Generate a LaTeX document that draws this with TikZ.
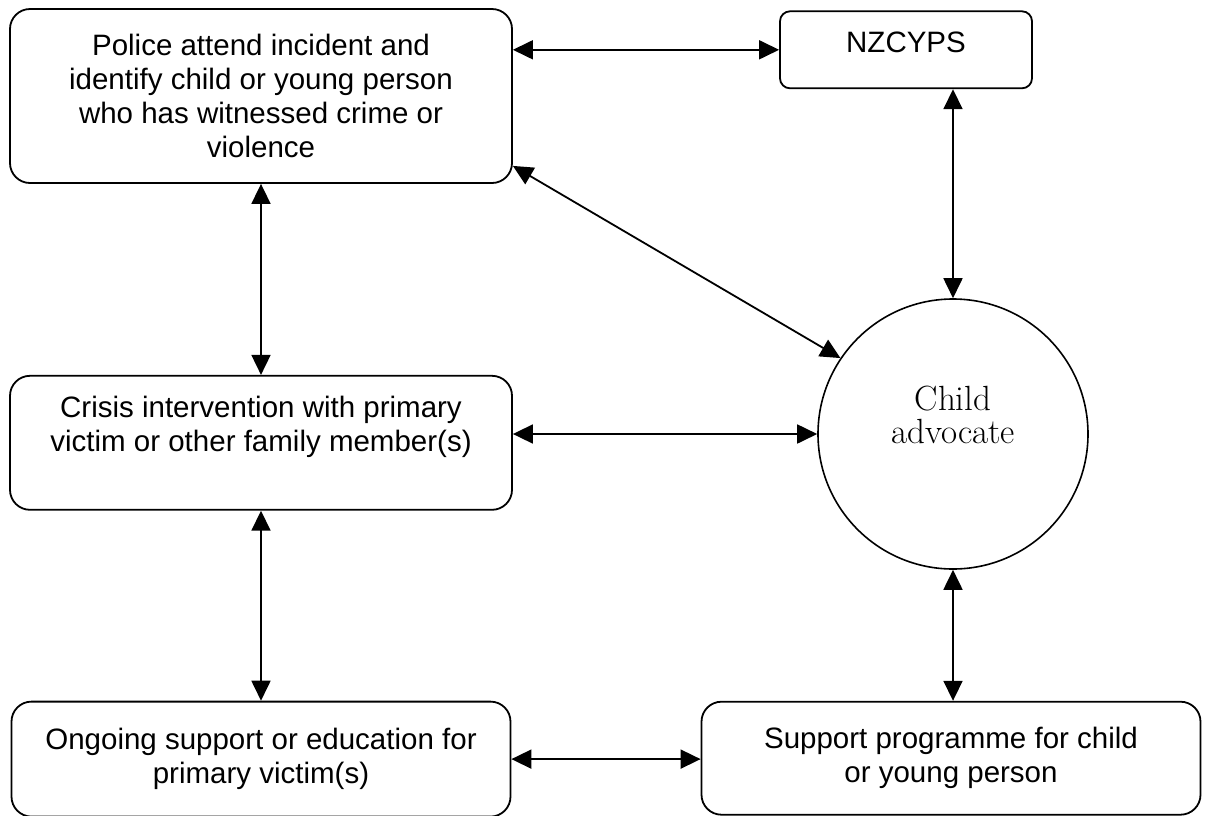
\documentclass[tikz,border=0pt]{standalone}
\usepackage{fontspec}
\setsansfont{Liberation Sans}
\usepackage{tikz}
\usetikzlibrary{positioning}
\usetikzlibrary{arrows.meta}

\begin{document}
\begin{tikzpicture}[
    x=1pt, y=-1pt,
    line width=1.8pt,
    >={Triangle[length=20pt,width=19pt]},
    node distance=190pt
]
\tikzstyle{box}=[rectangle, draw, rounded corners=20pt, minimum width=502pt, inner sep=0pt, align=center, font=\sffamily\fontsize{29.5}{34}\selectfont]
\tikzstyle{hub}=[circle, draw, line width=1.6pt, minimum size=270pt, inner sep=0pt, align=center, font=\rmfamily\fontsize{35}{33}\selectfont]
\tikzstyle{link}=[<->]

\useasboundingbox (0,0) rectangle (1205,815);

% Left column
\node[box, minimum height=174pt] (police) at (261,96) {Police attend incident and\\identify child or young person\\who has witnessed crime or\\violence};
\node[box, minimum height=134pt, text depth=37pt, below=191pt of police] (crisis) {Crisis intervention with primary\\victim or other family member(s)};
\node[box, minimum width=499pt, minimum height=115pt, below=of crisis] (ongoing) {Ongoing support or education for\\primary victim(s)};

% Right column
\node[hub, text depth=38pt] (advocate) at (953,434) {Child\\advocate};
\node[box, minimum width=252pt, minimum height=77pt, rounded corners=10pt, text depth=15pt, above=209pt of advocate, xshift=-47pt] (nzcyps) {NZCYPS};
\node[box, minimum width=499pt, minimum height=113pt, below=131pt of advocate, xshift=-2pt] (support) {Support programme for child\\or young person};

% Connections
\draw[link] (police.east |- nzcyps.west) -- (nzcyps.west);
\draw[link] (nzcyps.south -| advocate.north) -- (advocate.north);
\draw[link] ([yshift=18pt]police.south east) -- (advocate.146);

\draw[link] (police.south) -- (crisis.north);
\draw[link] (crisis.east |- advocate.west) -- (advocate.west);
\draw[link] (crisis.south) -- (ongoing.north);

\draw[link] (advocate.south) -- (advocate.south |- support.north);
\draw[link] (ongoing.east) -- (ongoing.east -| support.west);

\end{tikzpicture}
\end{document}
